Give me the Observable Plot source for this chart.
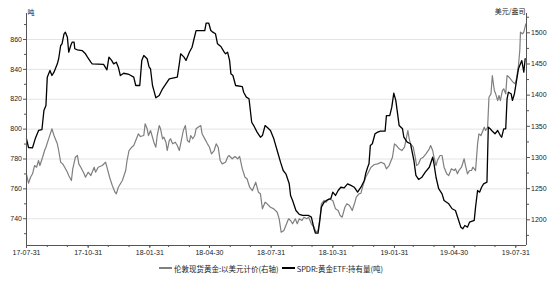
<!DOCTYPE html>
<html><head><meta charset="utf-8">
<script src="https://cdn.jsdelivr.net/npm/d3@7"></script>
<script src="https://cdn.jsdelivr.net/npm/@observablehq/plot@0.6"></script>
<style>
body{margin:0;background:#fff;font-family:"Liberation Sans",Arial,sans-serif;}
#chart svg{display:block;}
#legend{display:flex;align-items:center;height:16px;padding-left:159px;font-family:"Noto Sans CJK SC","Liberation Sans",sans-serif;font-size:7.5px;color:#222;white-space:nowrap;}
#legend .sw{display:inline-block;width:13px;height:1.4px;margin-right:2px;}
#legend .lab{margin-right:3px;}
</style></head>
<body><div id="chart"></div>
<div id="legend"><span class="sw" style="background:#808080"></span><span class="lab">伦敦现货黄金:以美元计价(右轴)</span><span class="sw" style="background:#000"></span><span class="lab">SPDR:黄金ETF:持有量(吨)</span></div>
<script>
const spdrDates = ["2017-07-31","2017-08-03","2017-08-09","2017-08-13","2017-08-18","2017-08-23","2017-08-26","2017-08-29","2017-08-31","2017-09-04","2017-09-07","2017-09-10","2017-09-15","2017-09-17","2017-09-20","2017-09-22","2017-09-25","2017-09-27","2017-09-30","2017-10-02","2017-10-05","2017-10-07","2017-10-10","2017-10-11","2017-10-15","2017-10-22","2017-10-27","2017-10-30","2017-11-04","2017-11-06","2017-11-23","2017-11-28","2017-12-01","2017-12-05","2017-12-08","2017-12-12","2017-12-15","2017-12-18","2017-12-23","2017-12-31","2018-01-07","2018-01-10","2018-01-16","2018-01-19","2018-01-22","2018-01-27","2018-01-30","2018-02-01","2018-02-04","2018-02-06","2018-02-09","2018-02-14","2018-02-19","2018-02-24","2018-03-01","2018-03-13","2018-03-16","2018-03-18","2018-03-23","2018-03-26","2018-03-31","2018-04-04","2018-04-07","2018-04-10","2018-04-17","2018-04-23","2018-04-25","2018-04-29","2018-05-02","2018-05-05","2018-05-09","2018-05-12","2018-05-17","2018-05-22","2018-05-24","2018-05-27","2018-05-30","2018-06-01","2018-06-04","2018-06-08","2018-06-18","2018-06-20","2018-06-24","2018-06-28","2018-07-02","2018-07-05","2018-07-10","2018-07-15","2018-07-18","2018-07-22","2018-07-25","2018-07-30","2018-08-04","2018-08-09","2018-08-14","2018-08-18","2018-08-22","2018-08-27","2018-08-29","2018-09-01","2018-09-06","2018-09-11","2018-09-16","2018-09-25","2018-09-29","2018-10-03","2018-10-05","2018-10-09","2018-10-11","2018-10-14","2018-10-18","2018-10-23","2018-10-28","2018-10-31","2018-11-04","2018-11-08","2018-11-12","2018-11-17","2018-11-22","2018-11-27","2018-12-02","2018-12-07","2018-12-12","2018-12-17","2018-12-19","2018-12-22","2018-12-24","2018-12-26","2018-12-29","2019-01-02","2019-01-06","2019-01-10","2019-01-17","2019-01-19","2019-01-24","2019-01-27","2019-01-30","2019-02-02","2019-02-04","2019-02-07","2019-02-12","2019-02-14","2019-02-19","2019-02-24","2019-03-01","2019-03-04","2019-03-08","2019-03-13","2019-03-18","2019-03-24","2019-03-29","2019-03-31","2019-04-03","2019-04-07","2019-04-12","2019-04-15","2019-04-22","2019-04-27","2019-05-02","2019-05-06","2019-05-10","2019-05-13","2019-05-16","2019-05-20","2019-05-23","2019-05-30","2019-06-01","2019-06-04","2019-06-07","2019-06-10","2019-06-13","2019-06-18","2019-06-20","2019-06-23","2019-06-25","2019-06-30","2019-07-04","2019-07-08","2019-07-10","2019-07-13","2019-07-16","2019-07-18","2019-07-20","2019-07-24","2019-07-26","2019-07-29","2019-08-02","2019-08-04","2019-08-07","2019-08-09","2019-08-12","2019-08-14"];
const spdrTonnes = [793.5,787.7,787.5,793.5,799.1,799.6,812.5,815.8,834.8,839.3,835.9,838.1,843.7,847.1,856.0,857.1,863.8,864.9,861.5,851.5,856.0,858.2,858.2,853.8,853.1,852.6,850.4,848.2,844.8,843.7,843.3,839.7,848.2,846.0,843.7,844.8,841.5,835.9,837.4,836.6,834.8,829.2,829.2,846.0,849.3,847.1,841.5,840.4,829.2,825.9,821.0,822.5,827.0,830.3,833.7,834.8,843.7,850.4,848.2,846.0,851.5,854.8,860.5,866.0,866.0,866.0,870.9,870.9,866.0,864.9,863.8,857.1,855.3,851.5,850.4,851.5,846.0,837.0,835.9,829.2,828.5,824.7,821.4,820.3,804.6,802.4,798.0,794.6,795.7,802.4,801.3,799.1,793.5,785.7,777.9,772.3,770.1,763.4,755.6,752.2,745.5,742.9,742.2,742.2,741.1,733.3,730.4,730.4,736.6,747.8,751.1,752.7,753.4,757.8,755.6,758.9,761.1,760.7,763.4,762.3,761.1,757.8,761.1,765.6,770.1,774.5,776.8,789.1,790.2,796.9,798.0,798.6,798.6,809.1,809.1,814.7,824.1,819.2,812.5,802.4,800.2,794.6,791.3,790.2,779.0,769.0,766.3,767.8,771.2,774.5,781.2,776.8,767.8,760.1,756.7,752.2,750.0,746.7,745.5,740.0,734.4,733.3,735.5,734.4,737.7,738.9,747.8,758.9,757.8,761.1,763.4,764.5,801.3,800.2,799.1,796.9,799.1,795.7,794.6,800.2,800.2,820.3,824.7,823.7,819.2,823.7,834.8,840.4,843.7,845.9,838.1,847.1];

const goldDates = ["2017-07-31","2017-08-03","2017-08-06","2017-08-09","2017-08-12","2017-08-15","2017-08-18","2017-08-20","2017-08-24","2017-08-27","2017-08-29","2017-09-02","2017-09-07","2017-09-10","2017-09-15","2017-09-17","2017-09-20","2017-09-23","2017-09-26","2017-09-30","2017-10-02","2017-10-06","2017-10-08","2017-10-12","2017-10-15","2017-10-17","2017-10-20","2017-10-25","2017-10-27","2017-10-31","2017-11-04","2017-11-09","2017-11-11","2017-11-15","2017-11-21","2017-11-26","2017-11-28","2017-12-02","2017-12-06","2017-12-10","2017-12-12","2017-12-15","2017-12-21","2017-12-26","2017-12-28","2017-12-31","2018-01-04","2018-01-07","2018-01-10","2018-01-14","2018-01-17","2018-01-22","2018-01-24","2018-01-27","2018-01-29","2018-02-01","2018-02-04","2018-02-06","2018-02-09","2018-02-11","2018-02-14","2018-02-16","2018-02-19","2018-02-21","2018-02-24","2018-02-26","2018-03-01","2018-03-03","2018-03-06","2018-03-10","2018-03-13","2018-03-16","2018-03-18","2018-03-22","2018-03-25","2018-03-28","2018-03-31","2018-04-02","2018-04-05","2018-04-08","2018-04-10","2018-04-13","2018-04-17","2018-04-19","2018-04-23","2018-04-27","2018-04-30","2018-05-03","2018-05-07","2018-05-10","2018-05-13","2018-05-16","2018-05-19","2018-05-24","2018-05-27","2018-05-29","2018-06-03","2018-06-07","2018-06-11","2018-06-14","2018-06-18","2018-06-22","2018-06-25","2018-06-29","2018-07-03","2018-07-08","2018-07-12","2018-07-15","2018-07-18","2018-07-22","2018-07-25","2018-07-30","2018-08-04","2018-08-09","2018-08-12","2018-08-15","2018-08-19","2018-08-22","2018-08-26","2018-08-29","2018-09-01","2018-09-05","2018-09-08","2018-09-11","2018-09-15","2018-09-18","2018-09-22","2018-09-25","2018-09-29","2018-10-03","2018-10-06","2018-10-09","2018-10-12","2018-10-14","2018-10-18","2018-10-21","2018-10-25","2018-10-31","2018-11-04","2018-11-08","2018-11-11","2018-11-14","2018-11-18","2018-11-21","2018-11-25","2018-11-29","2018-12-03","2018-12-05","2018-12-09","2018-12-12","2018-12-15","2018-12-19","2018-12-22","2018-12-27","2019-01-01","2019-01-06","2019-01-11","2019-01-16","2019-01-19","2019-01-23","2019-01-28","2019-01-31","2019-02-03","2019-02-07","2019-02-11","2019-02-15","2019-02-17","2019-02-20","2019-02-22","2019-02-24","2019-02-28","2019-03-03","2019-03-05","2019-03-08","2019-03-11","2019-03-15","2019-03-19","2019-03-24","2019-03-26","2019-03-29","2019-03-31","2019-04-03","2019-04-05","2019-04-09","2019-04-12","2019-04-15","2019-04-19","2019-04-22","2019-04-26","2019-04-30","2019-05-02","2019-05-05","2019-05-07","2019-05-11","2019-05-15","2019-05-17","2019-05-20","2019-05-23","2019-05-26","2019-05-28","2019-06-01","2019-06-04","2019-06-06","2019-06-09","2019-06-11","2019-06-14","2019-06-16","2019-06-19","2019-06-21","2019-06-24","2019-06-26","2019-06-29","2019-07-01","2019-07-04","2019-07-06","2019-07-08","2019-07-11","2019-07-13","2019-07-16","2019-07-18","2019-07-21","2019-07-23","2019-07-27","2019-07-30","2019-08-01","2019-08-04","2019-08-06","2019-08-07","2019-08-10","2019-08-12","2019-08-15"];
const goldPrice = [1272.7,1258.7,1268.3,1273.8,1287.1,1284.4,1295.1,1287.1,1300.4,1311.2,1316.5,1329.9,1346.0,1335.2,1321.9,1311.2,1292.4,1289.8,1284.4,1276.4,1271.1,1263.0,1281.8,1300.4,1303.2,1289.8,1284.4,1273.8,1268.3,1276.4,1271.1,1284.4,1276.4,1284.4,1287.1,1292.4,1284.4,1268.3,1255.0,1244.3,1241.7,1252.3,1263.0,1279.1,1295.1,1311.2,1316.5,1319.2,1327.2,1338.0,1333.6,1335.2,1354.0,1346.0,1335.2,1343.3,1332.5,1324.5,1316.5,1335.2,1351.3,1346.0,1330.0,1332.5,1324.5,1311.2,1327.2,1330.0,1321.9,1324.5,1319.2,1311.2,1321.9,1343.3,1351.3,1327.2,1324.5,1335.2,1330.0,1335.2,1346.0,1348.6,1351.3,1338.0,1329.9,1321.9,1316.5,1305.9,1311.2,1321.9,1316.5,1295.1,1289.8,1292.4,1300.4,1303.2,1297.9,1301.6,1297.9,1301.6,1281.8,1268.3,1265.8,1252.3,1247.0,1260.3,1244.3,1241.7,1217.6,1228.2,1225.7,1220.2,1217.6,1212.2,1201.6,1180.1,1182.8,1190.8,1201.6,1198.9,1193.6,1201.6,1193.6,1201.6,1198.9,1204.2,1201.6,1204.2,1193.6,1188.1,1180.1,1182.8,1204.2,1225.7,1231.0,1228.2,1233.7,1231.0,1217.6,1214.9,1206.9,1204.2,1220.2,1225.7,1222.9,1214.9,1228.2,1236.3,1241.7,1242.7,1255.0,1268.3,1273.8,1284.4,1288.7,1289.8,1292.4,1289.8,1281.8,1287.1,1300.4,1321.9,1319.2,1313.9,1311.2,1316.5,1327.2,1343.3,1329.9,1321.9,1316.5,1300.4,1287.1,1289.8,1297.9,1300.4,1305.9,1313.9,1319.2,1311.2,1300.4,1287.1,1295.1,1303.2,1303.2,1284.4,1273.8,1271.1,1281.8,1279.1,1281.8,1273.8,1279.1,1284.4,1297.9,1287.1,1273.8,1279.1,1279.1,1284.4,1279.1,1321.9,1337.9,1335.2,1340.5,1348.6,1343.3,1348.6,1396.7,1402.1,1431.5,1407.4,1402.1,1391.4,1399.4,1391.4,1407.4,1410.2,1402.1,1431.5,1428.8,1426.2,1420.7,1418.2,1426.2,1447.5,1471.6,1501.0,1498.4,1501.0,1514.4];

const xTickDates = ["2017-07-31","2017-10-31","2018-01-31","2018-04-30","2018-07-31","2018-10-31","2019-01-31","2019-04-30","2019-07-31"];
const leftTicks = [740,760,780,800,820,840,860];
const leftMinorTicks = [730,750,770,790,810,830,850,870];
const rightTicks = [1200,1250,1300,1350,1400,1450,1500];
const rightMinorTicks = [1175,1225,1275,1325,1375,1425,1475,1525];

const xDomain = [new Date("2017-07-31"), new Date("2019-08-16")];
const leftDomain = [722.1, 877.4];
const rightDomain = [1158.8, 1531];
const toLeft = d3.scaleLinear().domain(rightDomain).range(leftDomain);

const spdr = spdrDates.map((d, i) => ({date: new Date(d), v: spdrTonnes[i]}));
const gold = goldDates.map((d, i) => ({date: new Date(d), v: goldPrice[i]}));
const monthEnds = d3.utcMonth.range(new Date("2017-08-01"), new Date("2019-08-02")).map(d => d3.utcDay.offset(d, -1));

const axisColor = "#555";
const chart = Plot.plot({
  width: 550, height: 260,
  marginLeft: 26, marginRight: 24, marginTop: 13, marginBottom: 15,
  style: {fontFamily: "'Liberation Sans', Arial, sans-serif", fontSize: "7px", color: "#222", background: "#fff"},
  x: {type: "utc", domain: xDomain},
  y: {domain: leftDomain},
  marks: [
    Plot.gridY(leftTicks, {stroke: "#e4e4e4", strokeOpacity: 1}),
    Plot.line(gold, {x: "date", y: d => toLeft(d.v), stroke: "#7f7f7f", strokeWidth: 1.2}),
    Plot.line(spdr, {x: "date", y: "v", stroke: "#000", strokeWidth: 1.3}),
    Plot.ruleX(xDomain, {stroke: axisColor}),
    Plot.ruleY([leftDomain[0]], {stroke: axisColor}),
    Plot.axisX(monthEnds, {tickSize: 2, stroke: axisColor, fill: "none", label: null}),
    Plot.axisX(xTickDates.map(d => new Date(d)), {tickSize: 3, tickPadding: 1.5, stroke: axisColor, fill: "#222", fontSize: 7, tickFormat: d3.utcFormat("%y-%m-%d"), label: null}),
    Plot.axisY(leftMinorTicks, {anchor: "left", tickSize: 2, stroke: axisColor, fill: "none", label: null}),
    Plot.axisY(leftTicks, {anchor: "left", tickSize: 3, tickPadding: 1.5, stroke: axisColor, fill: "#222", fontSize: 7, tickFormat: d3.format("d"), label: null}),
    Plot.axisY(rightMinorTicks, {anchor: "right", y: toLeft, tickSize: 2, stroke: axisColor, fill: "none", label: null}),
    Plot.axisY(rightTicks, {anchor: "right", y: toLeft, tickSize: 3, tickPadding: 1.5, stroke: axisColor, fill: "#222", fontSize: 7, tickFormat: d3.format("d"), label: null}),
    Plot.text(["吨"], {frameAnchor: "top-left", textAnchor: "start", lineAnchor: "middle", dx: 1, dy: -1, fontSize: 7, fontFamily: "'Noto Sans CJK SC', sans-serif", fill: "#222"}),
    Plot.text(["美元/盎司"], {frameAnchor: "top-right", textAnchor: "end", lineAnchor: "middle", dx: -1, dy: -1.5, fontSize: 7, fontFamily: "'Noto Sans CJK SC', sans-serif", fill: "#222"})
  ]
});
document.getElementById("chart").appendChild(chart);
</script>
</body></html>
